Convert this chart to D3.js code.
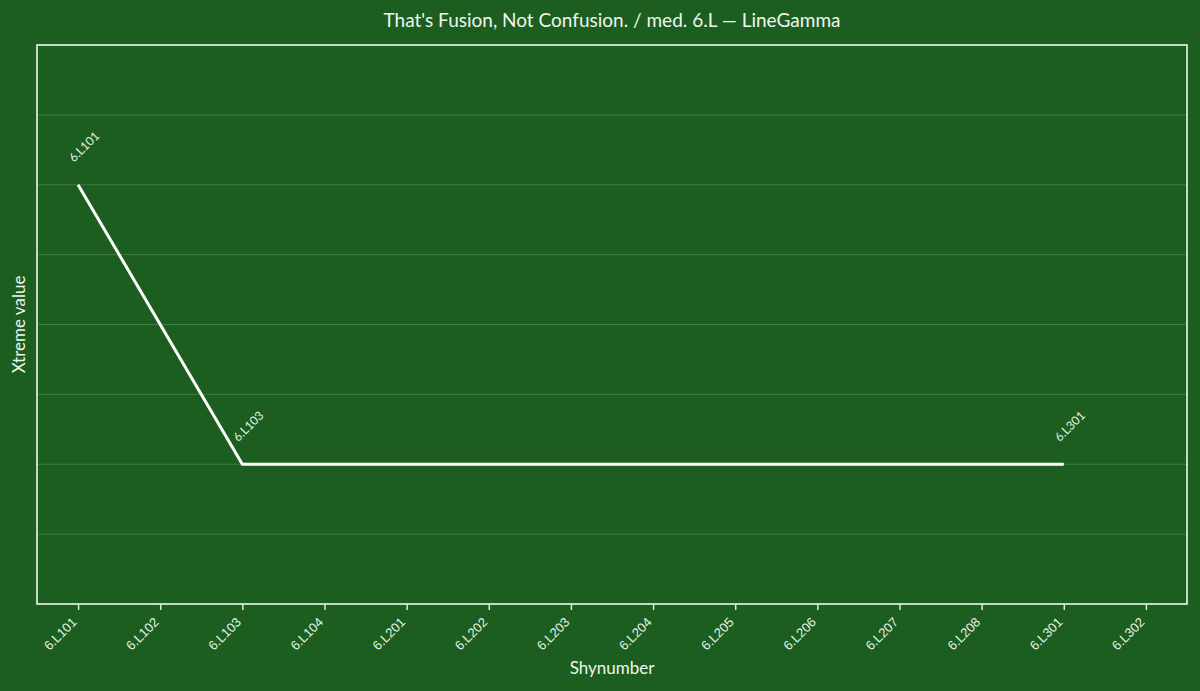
<!DOCTYPE html>
<html>
<head>
<meta charset="utf-8">
<script src="https://cdn.jsdelivr.net/npm/d3@7"></script>
<style>
  html, body { margin: 0; padding: 0; background: #1b5e20; }
  svg { display: block; font-family: "Source Sans Pro", Lato, "Noto Sans", sans-serif; }
</style>
</head>
<body>
<svg id="chart" width="1200" height="691"></svg>
<script>
// categories along the x axis
const categories = ["6.L101", "6.L102", "6.L103", "6.L104", "6.L201", "6.L202", "6.L203",
  "6.L204", "6.L205", "6.L206", "6.L207", "6.L208", "6.L301", "6.L302"];

// the LineGamma series (only three categories carry a value)
const seriesNames = ["6.L101", "6.L103", "6.L301"];
const seriesValues = [3, 1, 1];

// y gridlines (no labels drawn)
const yTicks = [0, 0.5, 1, 1.5, 2, 2.5, 3, 3.5, 4];

const titleText = "That's Fusion, Not Confusion. / med. 6.L \u2014 LineGamma";
const xTitle = "Shynumber";
const yTitle = "Xtreme value";

const width = 1200, height = 691;
const margin = { top: 45, right: 13, bottom: 87, left: 37 };
const innerW = width - margin.left - margin.right;
const innerH = height - margin.top - margin.bottom;

const svg = d3.select("#chart");

var x = d3.scalePoint()
  .domain(categories)
  .range([0, innerW])
  .padding(0.5);

var y = d3.scaleLinear()
  .domain([0, 4])
  .range([innerH, 0]);

var g = svg.append("g")
  .attr("transform", "translate(" + margin.left + "," + margin.top + ")");

// gridlines
g.selectAll(".grid")
  .data(yTicks.filter(function(t) { return t > 0 && t < 4; }))
  .enter()
  .append("line")
  .attr("x1", 0)
  .attr("x2", innerW)
  .attr("y1", function(d) { return y(d); })
  .attr("y2", function(d) { return y(d); })
  .attr("stroke", "#4f8a4f")
  .attr("stroke-opacity", 0.7)
  .attr("stroke-width", 1);

// frame
g.append("rect")
  .attr("x", 0)
  .attr("y", 0)
  .attr("width", innerW)
  .attr("height", innerH)
  .attr("fill", "none")
  .attr("stroke", "#ffffff")
  .attr("stroke-width", 1.5);

// x axis
var xAxis = g.append("g")
  .attr("transform", "translate(0," + innerH + ")")
  .call(d3.axisBottom(x).tickSize(6).tickSizeOuter(0));

xAxis.select(".domain").remove();
xAxis.selectAll(".tick line").attr("stroke", "#d9ecd9").attr("stroke-width", 1.5);
xAxis.selectAll(".tick text")
  .attr("fill", "#e3f1e3")
  .attr("font-size", 13)
  .attr("text-anchor", "end")
  .attr("dy", null)
  .attr("x", 0)
  .attr("y", 0)
  .attr("transform", "translate(-1,19) rotate(-45)");

// line
var points = seriesNames.map(function(n, i) { return { name: n, value: seriesValues[i] }; });

var line = d3.line()
  .x(function(d) { return x(d.name); })
  .y(function(d) { return y(d.value); });

g.append("path")
  .datum(points)
  .attr("d", line)
  .attr("fill", "none")
  .attr("stroke", "#ffffff")
  .attr("stroke-width", 3);

// point labels
g.selectAll(".plabel")
  .data(points)
  .enter()
  .append("text")
  .attr("transform", function(d) {
    return "translate(" + (x(d.name) - 4) + "," + (y(d.value) - 22) + ") rotate(-45)";
  })
  .attr("fill", "#e3f1e3")
  .attr("font-size", 12)
  .text(function(d) { return d.name; });

// title
svg.append("text")
  .attr("x", margin.left + innerW / 2)
  .attr("y", 27)
  .attr("text-anchor", "middle")
  .attr("fill", "#eef6ee")
  .attr("font-size", 19)
  .text(titleText);

// axis titles
svg.append("text")
  .attr("x", margin.left + innerW / 2)
  .attr("y", 674)
  .attr("text-anchor", "middle")
  .attr("fill", "#eef6ee")
  .attr("font-size", 17)
  .text(xTitle);

svg.append("text")
  .attr("transform", "translate(25," + (margin.top + innerH / 2) + ") rotate(-90)")
  .attr("text-anchor", "middle")
  .attr("fill", "#eef6ee")
  .attr("font-size", 17)
  .text(yTitle);
</script>
</body>
</html>
